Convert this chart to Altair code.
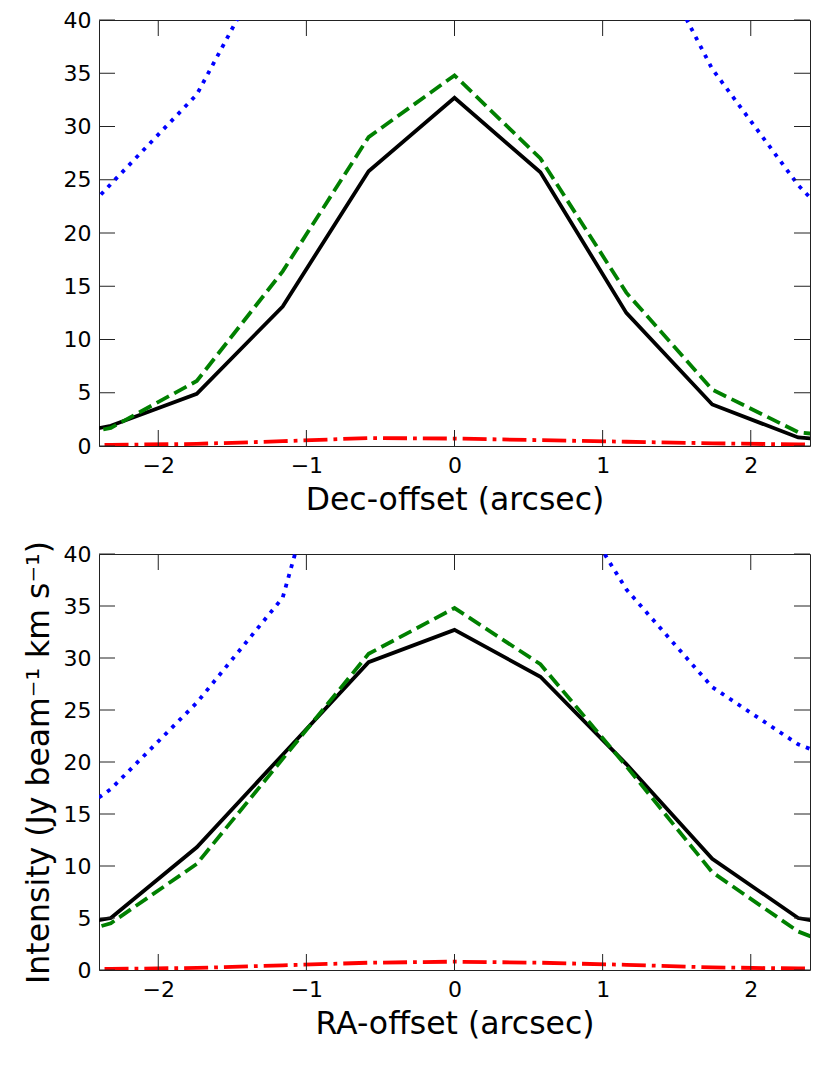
import altair as alt
import pandas as pd

# offsets (arcsec)
x_offsets = [-2.9, -2.32, -1.74, -1.16, -0.58, 0.0, 0.58, 1.16, 1.74, 2.32, 2.9]

# Dec-offset panel
dec_black = [0.3, 1.9, 4.9, 13.1, 25.8, 32.7, 25.7, 12.5, 3.9, 0.8, 0.2]
dec_green = [0.0, 1.7, 6.1, 16.4, 29.0, 34.8, 27.0, 14.4, 5.3, 1.3, 0.4]
dec_blue = [16.0, 24.6, 33.0, 48.0, 70.0, 85.0, 70.0, 51.0, 35.4, 24.5, 16.0]
dec_red = [0.05, 0.1, 0.2, 0.45, 0.75, 0.7, 0.55, 0.4, 0.25, 0.15, 0.1]

# RA-offset panel
ra_black = [3.5, 5.0, 11.8, 20.7, 29.6, 32.7, 28.2, 19.8, 10.7, 5.0, 3.5]
ra_green = [2.0, 4.5, 10.2, 20.3, 30.4, 34.8, 29.4, 19.6, 9.4, 3.7, 0.5]
ra_blue = [11.5, 17.4, 25.7, 35.8, 65.0, 80.0, 50.0, 36.6, 27.2, 21.7, 18.5]
ra_red = [0.05, 0.1, 0.2, 0.45, 0.7, 0.8, 0.7, 0.5, 0.25, 0.15, 0.1]

x_ticks = [-2, -1, 0, 1, 2]
y_ticks = [0, 5, 10, 15, 20, 25, 30, 35, 40]

y_title = "Intensity (Jy beam\u207b\u00b9 km s\u207b\u00b9)"

LW = 3.8
styles = {
    "black": dict(color="#000000", strokeWidth=LW),
    "green": dict(color="#008000", strokeWidth=LW, strokeDash=[14, 6]),
    "blue": dict(color="#0000ff", strokeWidth=LW, strokeDash=[3.8, 6.3]),
    "red": dict(color="#ff0000", strokeWidth=LW, strokeDash=[24, 6, 3.8, 6]),
}

W = 711
TICK = 16
FRAME = "#222222"


def panel(series, xtitle, show_ytitle, H):
    xs = alt.Scale(domain=[-2.4, 2.4], nice=False, zero=False)
    ys = alt.Scale(domain=[0, 40], nice=False, zero=False)
    xax = alt.Axis(values=x_ticks, title=xtitle, format="d")
    yax = alt.Axis(values=y_ticks, title=y_title, titleOpacity=1 if show_ytitle else 0)
    layers = []
    for name, vals in series:
        df = pd.DataFrame({"x": x_offsets, "y": vals})
        layers.append(
            alt.Chart(df)
            .mark_line(clip=True, **styles[name])
            .encode(
                x=alt.X("x:Q", scale=xs, axis=xax),
                y=alt.Y("y:Q", scale=ys, axis=yax),
            )
        )
    xt = pd.DataFrame({"x": x_ticks})
    yt = pd.DataFrame({"y": y_ticks})
    rule = dict(color=FRAME, strokeWidth=1)
    layers.append(alt.Chart(xt).mark_rule(**rule).encode(
        x=alt.X("x:Q", scale=xs, axis=xax), y=alt.value(H), y2=alt.value(H - TICK)))
    layers.append(alt.Chart(xt).mark_rule(**rule).encode(
        x=alt.X("x:Q", scale=xs, axis=xax), y=alt.value(0), y2=alt.value(TICK)))
    layers.append(alt.Chart(yt).mark_rule(**rule).encode(
        y=alt.Y("y:Q", scale=ys, axis=yax), x=alt.value(0), x2=alt.value(TICK)))
    layers.append(alt.Chart(yt).mark_rule(**rule).encode(
        y=alt.Y("y:Q", scale=ys, axis=yax), x=alt.value(W), x2=alt.value(W - TICK)))
    return alt.layer(*layers).properties(width=W, height=H)


top = panel([("black", dec_black), ("green", dec_green), ("blue", dec_blue), ("red", dec_red)],
            "Dec-offset (arcsec)", False, 426)
bottom = panel([("black", ra_black), ("green", ra_green), ("blue", ra_blue), ("red", ra_red)],
               "RA-offset (arcsec)", True, 416)

chart = (
    alt.vconcat(top, bottom, spacing=24)
    .properties(padding={"left": 14, "top": 0, "right": 5, "bottom": 5})
    .configure_view(stroke=FRAME, strokeWidth=1)
    .configure_axis(
        grid=False, ticks=False, domain=False,
        labelFont="DejaVu Sans", labelFontSize=22, labelColor="black",
        titleFont="DejaVu Sans", titleFontSize=31.5, titleFontWeight="normal",
        titleColor="black",
    )
    .configure_axisX(labelPadding=9, titlePadding=8)
    .configure_axisY(labelPadding=8, titlePadding=8)
)

chart.save("out.html", embed_options={"renderer": "svg", "actions": False})
